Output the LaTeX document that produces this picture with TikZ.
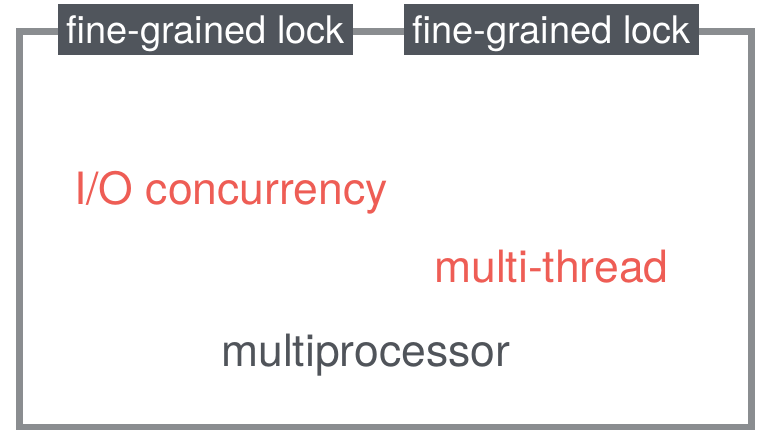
\documentclass[tikz,border=0pt]{standalone}
\usepackage{fontspec}
\setmainfont{TeX Gyre Heros}
\definecolor{framegray}{HTML}{8A8D90}
\definecolor{tagbg}{HTML}{50555C}
\definecolor{hotred}{HTML}{EE5D55}
\definecolor{inkgray}{HTML}{50545A}
\begin{document}
\begin{tikzpicture}[x=1pt,y=-1pt,
  frame/.style={draw=framegray,line width=7pt},
  tag/.style={fill=tagbg,text=white,inner sep=0pt,minimum width=295pt,
    minimum height=51pt,text depth=0pt,font=\fontsize{38}{43}\selectfont},
  word/.style={anchor=base west,inner sep=0pt,font=\fontsize{44.5}{50}\selectfont}]
  \useasboundingbox (0,0) rectangle (757,430);
  % outer frame
  \draw[frame] (19.5,31.5) rectangle (751.5,427);
  % lock tags on the top edge
  \node[tag] (lockA) at (205.5,29.5) {fine-grained lock};
  \node[tag] (lockB) at (551.5,29.5) {fine-grained lock};
  % labels inside the frame
  \node[word,text=hotred] (io) at (74,205) {I/O concurrency};
  \node[word,text=hotred] (mt) at (434,282) {multi-thread};
  \node[word,text=inkgray] (mp) at (221,366) {multiprocessor};
\end{tikzpicture}
\end{document}
